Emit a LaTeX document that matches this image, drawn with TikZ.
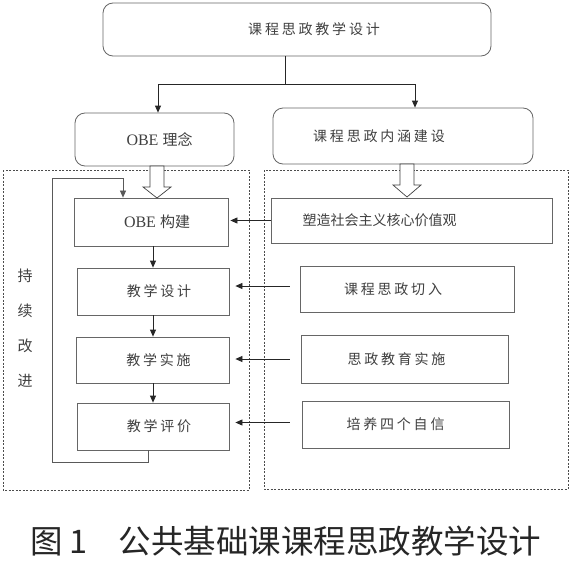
\documentclass[tikz,border=0pt]{standalone}
\usepackage{fontspec}
\setmainfont{Liberation Serif}
\newfontfamily\cjk{Noto Sans CJK SC}
\newfontfamily\cjks[LetterSpace=20]{Noto Sans CJK SC}
\usetikzlibrary{arrows.meta}
\definecolor{edge}{HTML}{666666}
\definecolor{txt}{HTML}{404040}
\begin{document}
\begin{tikzpicture}[x=1pt,y=-1pt,
  box/.style={draw=edge, line width=0.8pt, inner sep=0pt, text=txt, font=\fontsize{14}{16}\selectfont},
  rbox/.style={box, rounded corners=10pt},
  obetext/.style={font=\fontsize{16}{18}\selectfont},
  arr/.style={draw=black!85, line width=0.8pt, -{Triangle[length=7pt,width=6pt]}},
  ln/.style={draw=black!85, line width=0.8pt},
  dbox/.style={draw=black!70, line width=0.6pt, dash pattern=on 2pt off 1.5pt},
  hollow/.style={draw=black!75, line width=0.7pt, fill=white}]
\useasboundingbox (0,0) rectangle (570,562);
\fill[white] (0,0) rectangle (570,562);
% dashed regions
\draw[dbox] (3,170) rectangle (249,490);
\draw[dbox] (264,170) rectangle (568,489);
% top level
\node[rbox, minimum width=388pt, minimum height=53pt] (top) at (297,29.5) {\hspace*{17pt}\cjks 课程思政教学设计\hspace*{-17pt}};
\node[rbox, obetext, minimum width=159pt, minimum height=53pt] (idea) at (154.5,139.5) {\hspace*{5pt}OBE {\cjk\fontsize{15}{18}\selectfont 理念}\hspace*{-5pt}};
\node[rbox, minimum width=260pt, minimum height=56pt] (neihan) at (403,136) {\hspace*{-24pt}\cjks 课程思政内涵建设\hspace*{24pt}};
% left chain
\node[box, obetext, minimum width=154pt, minimum height=48pt] (obe) at (151,222) {\hspace*{6pt}OBE {\cjk\fontsize{15}{18}\selectfont 构建}\hspace*{-6pt}};
\node[box, minimum width=152pt, minimum height=47pt] (jxsj) at (153,291.5) {\hspace*{6pt}\cjks 教学设计\hspace*{-6pt}};
\node[box, minimum width=153pt, minimum height=46pt] (jxss) at (152.5,360) {\hspace*{6pt}\cjks 教学实施\hspace*{-6pt}};
\node[box, minimum width=152pt, minimum height=47pt] (jxpj) at (153,426.5) {\hspace*{6pt}\cjks 教学评价\hspace*{-6pt}};
% right chain
\node[box, minimum width=281pt, minimum height=45pt] (sz) at (411.5,220.5) {\hspace*{-32pt}\cjk 塑造社会主义核心价值观\hspace*{32pt}};
\node[box, minimum width=214pt, minimum height=46pt] (qr) at (407,289) {\hspace*{-14pt}\cjks 课程思政切入\hspace*{14pt}};
\node[box, minimum width=207pt, minimum height=48pt] (jy) at (404.5,359) {\hspace*{-8pt}\cjks 思政教育实施\hspace*{8pt}};
\node[box, minimum width=207pt, minimum height=47pt] (px) at (405.5,424.5) {\hspace*{-10pt}\cjks 培养四个自信\hspace*{10pt}};
% side label
\node[text=txt, font=\fontsize{15}{35}\selectfont\cjk, align=center, inner sep=0pt] (side) at (25,328) {持\\续\\改\\进};
% top connectors
\coordinate (j) at (285,84);
\draw[ln] (top.south -| j) -- (j);
\draw[arr] (j) -| ([xshift=3.5pt]idea.north);
\draw[arr] (j) -| ([xshift=12pt]neihan.north);
% hollow arrows
\draw[hollow] (150,166) -- (164,166) -- (164,187) -- (171,187) -- (157,198) -- (143,187) -- (150,187) -- cycle;
\draw[hollow] (400,164) -- (414,164) -- (414,185) -- (421,185) -- (407,197) -- (393,185) -- (400,185) -- cycle;
% chain arrows
\draw[arr] (obe.south -| 153,0) -- (jxsj.north -| 153,0);
\draw[arr] (jxsj.south -| 153,0) -- (jxss.north -| 153,0);
\draw[arr] (jxss.south -| 153,0) -- (jxpj.north -| 153,0);
% cross arrows
\draw[arr, shorten >=2pt] (sz.west) -- (sz.west -| obe.east);
\draw[arr, shorten <=10pt, shorten >=6pt] ([yshift=3pt]qr.west) -- ([yshift=3pt]qr.west -| jxsj.east);
\draw[arr, shorten <=11pt, shorten >=6pt] (jy.west) -- (jy.west -| jxss.east);
\draw[arr, shorten <=12pt, shorten >=6pt] ([yshift=2pt]px.west) -- ([yshift=2pt]px.west -| jxpj.east);
% feedback loop
\coordinate (fb1) at (52,462);
\coordinate (fb2) at (52,178);
\coordinate (fb3) at (123,178);
\draw[arr, draw=black!65, line width=0.7pt] ([xshift=-5pt]jxpj.south) |- (fb1) -- (fb2) -| (fb3 |- obe.north);
% caption
\node[anchor=west, inner sep=0pt, font=\fontsize{32.5}{36}\selectfont\cjk, text=black!85] (cap) at (30,541) {图 1\hspace{0.95em}公共基础课课程思政教学设计};
\end{tikzpicture}
\end{document}
